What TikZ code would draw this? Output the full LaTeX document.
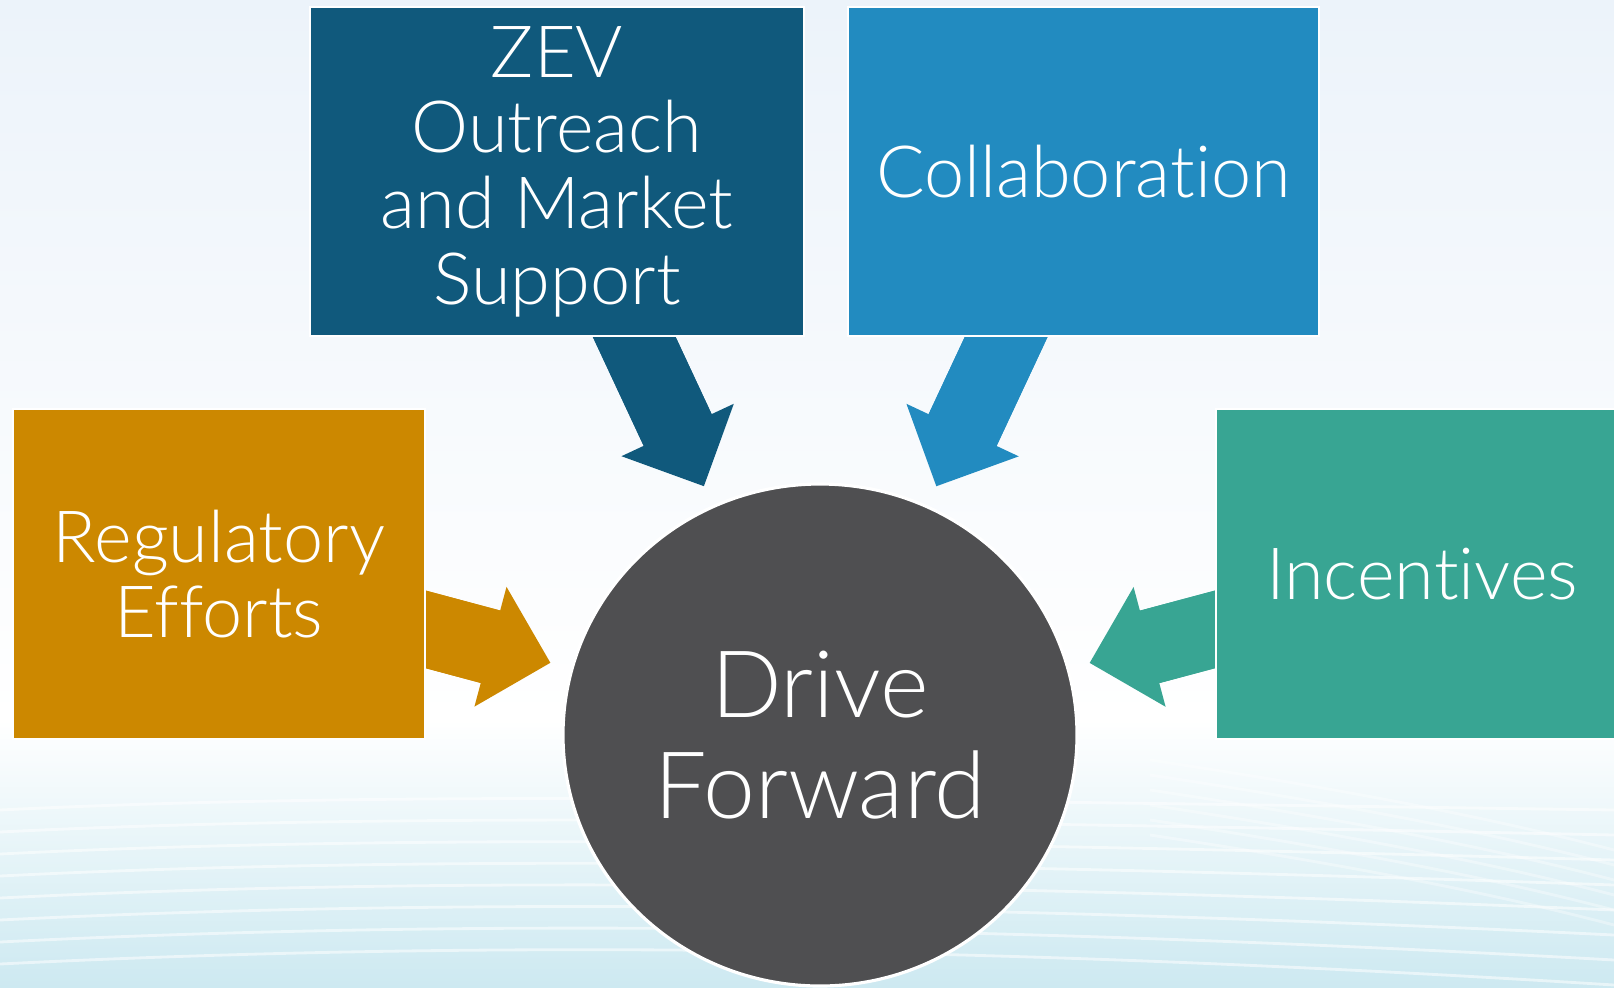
\documentclass[tikz,border=0pt]{standalone}
\usepackage{fontspec}
\setmainfont{Lato}[UprightFont=* Light, Ligatures=NoCommon]
\usetikzlibrary{positioning}
\usetikzlibrary{arrows.meta}
\usetikzlibrary{shapes.geometric}
\definecolor{zevblue}{RGB}{16,89,124}
\definecolor{colblue}{RGB}{34,139,192}
\definecolor{regorange}{RGB}{204,136,0}
\definecolor{incgreen}{RGB}{56,165,147}
\definecolor{drivegrey}{RGB}{79,79,81}
\definecolor{bgtop}{RGB}{236,243,250}
\definecolor{bgbot}{RGB}{205,233,241}
\pgfdeclarelayer{back}
\pgfsetlayers{back,main}
\tikzset{box/.style={rectangle, draw=white, line width=0.6pt, fill=#1, text=white,
align=center, inner sep=0pt, font=\fontsize{20.5}{21.5}\selectfont}}

\begin{document}
\begin{tikzpicture}[push/.style={line width=0.75cm, draw=#1,
  -{Triangle[length=0.62cm, width=1.24cm, line width=0pt]}, shorten >=0.21cm},
  shaft/.style={line width=0.75cm, draw=#1, shorten >=0.6cm},
  streak/.style={white, line width=0.8pt, opacity=0.55}]
\useasboundingbox (0,0) rectangle (16.14,-9.87);

				\node[box=zevblue, minimum width=4.94cm, minimum height=3.29cm] (zev) at (5.57,-1.715)
					{ZEV\\Outreach\\and Market\\Support};
				\node[box=colblue, minimum width=4.71cm, minimum height=3.29cm] (collab) at (10.835,-1.715)
					{Collaboration};
				\node[box=regorange, minimum width=4.12cm, minimum height=3.30cm] (reg) at (2.19,-5.74)
					{Regulatory\\Efforts};
				\node[box=incgreen, minimum width=4.12cm, minimum height=3.30cm] (inc) at (14.22,-5.74)
					{Incentives};
				\node[ellipse, draw=white, line width=0.9pt, fill=drivegrey, text=white, align=center,
					inner sep=0pt, minimum width=5.14cm, minimum height=5.02cm,
					font=\fontsize{26.5}{28.7}\selectfont] (drive) at (8.2,-7.35) {Drive\\Forward};

				\begin{pgfonlayer}{back}
					\fill[top color=bgtop, bottom color=white] (0,0) rectangle (16.14,-7.2);
					\fill[top color=white, bottom color=bgbot] (0,-7.2) rectangle (16.14,-9.87);
					\foreach \k in {0,...,7}
						\draw[streak] (0,-8.1-0.22*\k) .. controls (4,-7.9-0.22*\k) and (9,-8.0-0.2*\k) .. (16.14,-8.1-0.25*\k);
					\foreach \k in {0,...,5}
						\draw[streak, opacity=0.35] (11.5,-7.6-0.15*\k) .. controls (13.5,-7.9-0.15*\k) and (15,-8.2-0.15*\k) .. (16.14,-8.5-0.15*\k);

					\draw[push=zevblue] (zev.center) -- (drive);
					\draw[shaft=zevblue] (zev.center) -- (drive);
					\draw[push=colblue] (collab.center) -- (drive);
					\draw[shaft=colblue] (collab.center) -- (drive);
					\draw[push=regorange] (reg.center) -- (drive);
					\draw[shaft=regorange] (reg.center) -- (drive);
					\draw[push=incgreen] (inc.center) -- (drive);
					\draw[shaft=incgreen] (inc.center) -- (drive);
				\end{pgfonlayer}
\end{tikzpicture}
\end{document}
